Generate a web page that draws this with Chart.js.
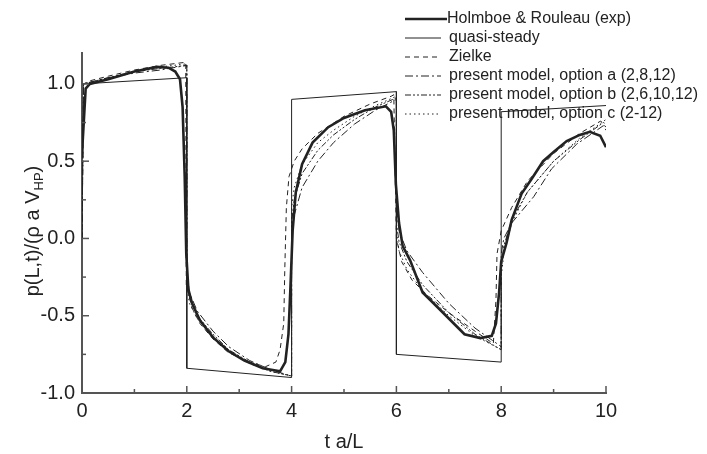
<!DOCTYPE html>
<html>
<head>
<meta charset="utf-8">
<script src="https://cdn.jsdelivr.net/npm/chart.js@4/dist/chart.umd.min.js"></script>
<style>
  html, body { margin: 0; padding: 0; background: #fff; }
  #wrap { width: 707px; height: 454px; }
</style>
</head>
<body>
<div id="wrap"><canvas id="pressureChart" width="707" height="454"></canvas></div>
<script>
// pressure at valve, p(L,t)/(rho a V_HP) against t a/L

const xTicks = [0, 2, 4, 6, 8, 10];
const xMinor = [1, 3, 5, 7, 9];
const yTicks = [-1.0, -0.5, 0.0, 0.5, 1.0];
const yMinor = [-0.75, -0.25, 0.25, 0.75];

const legendLabels = [
    'Holmboe & Rouleau (exp)',
    'quasi-steady',
    'Zielke',
    'present model, option a (2,8,12)',
    'present model, option b (2,6,10,12)',
    'present model, option c (2-12)'
];

const expT = [0, 0.07, 0.15, 0.5, 1.0, 1.43, 1.65, 1.78, 1.87, 1.92, 1.96, 1.99,
    2.03, 2.1, 2.25, 2.5, 2.8, 3.1, 3.45, 3.78, 3.88, 3.94, 3.98, 4.02,
    4.08, 4.2, 4.4, 4.7, 5.0, 5.4, 5.8, 5.9, 5.95, 5.99, 6.05,
    6.12, 6.26, 6.5, 6.8, 7.3, 7.6, 7.82, 7.9, 7.96, 8.0,
    8.1, 8.2, 8.39, 8.58, 8.8, 9.0, 9.25, 9.5, 9.69, 9.89, 10.0];
const expP = [0.55, 0.97, 1.0, 1.03, 1.08, 1.11, 1.105, 1.08, 1.03, 0.85, 0.4, -0.1,
    -0.33, -0.42, -0.53, -0.64, -0.73, -0.79, -0.84, -0.86, -0.8, -0.62, -0.3, 0.05,
    0.3, 0.48, 0.62, 0.72, 0.78, 0.83, 0.855, 0.82, 0.7, 0.35, 0.1,
    -0.05, -0.14, -0.35, -0.45, -0.62, -0.645, -0.63, -0.55, -0.35, -0.15,
    -0.03, 0.12, 0.29, 0.385, 0.5, 0.56, 0.63, 0.67, 0.69, 0.665, 0.59];

const quasiT = [0, 2, 2, 4, 4, 6, 6, 8, 8, 10];
const quasiP = [1.0, 1.04, -0.84, -0.9, 0.9, 0.95, -0.75, -0.8, 0.82, 0.86];

const zielkeT = [0, 0.03, 0.15, 0.5, 1.0, 1.5, 1.98, 1.99,
    2.1, 2.25, 2.5, 2.8, 3.2, 3.5, 3.7, 3.78, 3.85, 3.87,
    3.9, 3.95, 4.05, 4.2, 4.5, 5.0, 5.5, 5.9, 5.95,
    6.0, 6.1, 6.3, 6.6, 7.0, 7.5, 7.85, 7.9,
    7.92, 8.0, 8.2, 8.5, 9.0, 9.5, 9.9, 10.0];
const zielkeP = [0.0, 1.0, 1.02, 1.05, 1.09, 1.12, 1.14, -0.3,
    -0.45, -0.55, -0.65, -0.74, -0.8, -0.83, -0.8, -0.72, -0.55, -0.2,
    0.2, 0.4, 0.5, 0.58, 0.68, 0.79, 0.87, 0.92, 0.93,
    0.0, -0.15, -0.27, -0.37, -0.48, -0.6, -0.68, -0.4,
    -0.1, 0.05, 0.2, 0.37, 0.55, 0.68, 0.76, 0.72];

const optAT = [0, 0.03, 0.5, 1.0, 1.5, 2.0, 2.0, 2.05, 2.2, 2.5, 2.8, 3.2, 3.6, 4.0,
    4.0, 4.05, 4.2, 4.5, 4.8, 5.2, 5.6, 6.0, 6.0, 6.05, 6.2, 6.5, 7.0, 7.5, 8.0,
    8.0, 8.05, 8.2, 8.62, 8.96, 9.44, 9.95, 10.0];
const optAP = [0.0, 1.0, 1.04, 1.07, 1.09, 1.12, -0.2, -0.35, -0.47, -0.6, -0.7, -0.79, -0.85, -0.89,
    0.0, 0.15, 0.33, 0.5, 0.62, 0.74, 0.83, 0.9, 0.2, 0.05, -0.08, -0.22, -0.42, -0.58, -0.7,
    -0.1, 0.0, 0.1, 0.27, 0.45, 0.61, 0.73, 0.7];

const optBT = [0, 0.03, 0.5, 1.0, 1.5, 2.0, 2.0, 2.05, 2.2, 2.5, 2.8, 3.2, 3.6, 4.0,
    4.0, 4.05, 4.2, 4.5, 4.8, 5.2, 5.6, 6.0, 6.0, 6.05, 6.2, 6.5, 7.0, 7.5, 8.0,
    8.0, 8.05, 8.2, 8.5, 9.0, 9.5, 9.95, 10.0];
const optBP = [0.0, 1.0, 1.04, 1.08, 1.1, 1.12, -0.25, -0.38, -0.5, -0.62, -0.72, -0.8, -0.86, -0.89,
    0.1, 0.25, 0.42, 0.57, 0.67, 0.77, 0.85, 0.91, 0.1, -0.02, -0.15, -0.3, -0.48, -0.62, -0.72,
    -0.2, -0.05, 0.12, 0.3, 0.5, 0.64, 0.75, 0.74];

const optCT = [0, 0.03, 0.5, 1.0, 1.5, 2.0, 2.0, 2.05, 2.2, 2.5, 2.8, 3.2, 3.6, 4.0,
    4.0, 4.05, 4.2, 4.5, 4.8, 5.2, 5.6, 6.0, 6.0, 6.05, 6.2, 6.5, 7.0, 7.5, 8.0,
    8.0, 8.05, 8.2, 8.5, 9.0, 9.5, 10.0];
const optCP = [0.0, 1.0, 1.04, 1.08, 1.11, 1.13, -0.3, -0.42, -0.52, -0.63, -0.73, -0.81, -0.86, -0.89,
    0.2, 0.33, 0.48, 0.62, 0.7, 0.79, 0.86, 0.92, 0.05, -0.08, -0.2, -0.34, -0.5, -0.63, -0.72,
    -0.25, -0.1, 0.1, 0.3, 0.5, 0.65, 0.77];

const toPoints = (ts, ps) => ts.map((t, i) => ({ x: t, y: ps[i] }));

const ink = '#222';
const font = '"Liberation Sans", Arial, sans-serif';

function series(label, ts, ps, width, dash) {
    return {
        label: label,
        data: toPoints(ts, ps),
        borderColor: ink,
        borderWidth: width,
        borderDash: dash,
        pointRadius: 0,
        tension: 0,
        fill: false
    };
}

// inward ticks, axis titles and the line-sample legend
const decorPlugin = {
    id: 'decor',
    afterDraw(chart) {
        const ctx = chart.ctx;
        const xs = chart.scales.x;
        const ys = chart.scales.y;
        const area = chart.chartArea;
        ctx.save();
        ctx.strokeStyle = '#555';
        ctx.lineWidth = 1.5;
        const tick = (x1, y1, x2, y2) => {
            ctx.beginPath();
            ctx.moveTo(x1, y1);
            ctx.lineTo(x2, y2);
            ctx.stroke();
        };
        xTicks.forEach(v => { const px = xs.getPixelForValue(v); tick(px, area.bottom, px, area.bottom - 7); });
        xMinor.forEach(v => { const px = xs.getPixelForValue(v); tick(px, area.bottom, px, area.bottom - 4); });
        yTicks.forEach(v => { const py = ys.getPixelForValue(v); tick(area.left, py, area.left + 7, py); });
        yMinor.forEach(v => { const py = ys.getPixelForValue(v); tick(area.left, py, area.left + 4, py); });

        // x title
        ctx.fillStyle = ink;
        ctx.font = '20px ' + font;
        ctx.textAlign = 'center';
        ctx.textBaseline = 'middle';
        ctx.fillText('t a/L', (area.left + area.right) / 2, 442);

        // y title with subscript
        ctx.save();
        ctx.translate(33, (area.top + area.bottom) / 2 + 8);
        ctx.rotate(-Math.PI / 2);
        const main = 'p(L,t)/(\u03c1 a V';
        const sub = 'HP';
        const tail = ')';
        ctx.font = '20px ' + font;
        const w1 = ctx.measureText(main).width;
        const w3 = ctx.measureText(tail).width;
        ctx.font = '13px ' + font;
        const w2 = ctx.measureText(sub).width;
        let x0 = -(w1 + w2 + w3) / 2;
        ctx.textAlign = 'left';
        ctx.font = '20px ' + font;
        ctx.fillText(main, x0, 0);
        ctx.font = '13px ' + font;
        ctx.fillText(sub, x0 + w1, 6);
        ctx.font = '20px ' + font;
        ctx.fillText(tail, x0 + w1 + w2, 0);
        ctx.restore();

        // legend
        ctx.font = '16px ' + font;
        ctx.textAlign = 'left';
        ctx.textBaseline = 'middle';
        chart.data.datasets.forEach((ds, i) => {
            const y = 19 + i * 19;
            ctx.strokeStyle = ink;
            ctx.lineWidth = ds.borderWidth;
            ctx.setLineDash(ds.borderDash || []);
            ctx.beginPath();
            ctx.moveTo(405, y);
            ctx.lineTo(i === 0 ? 447 : 441, y);
            ctx.stroke();
            ctx.setLineDash([]);
            ctx.fillStyle = ink;
            ctx.fillText(ds.label, i === 0 ? 447 : 449, y);
        });
        ctx.restore();
    }
};

const chartCtx = document.getElementById('pressureChart').getContext('2d');

new Chart(chartCtx, {
    type: 'line',
    data: {
        datasets: [
            series(legendLabels[0], expT, expP, 2.6, []),
            series(legendLabels[1], quasiT, quasiP, 1, []),
            series(legendLabels[2], zielkeT, zielkeP, 1, [5, 4]),
            series(legendLabels[3], optAT, optAP, 1, [8, 3, 2, 3]),
            series(legendLabels[4], optBT, optBP, 1, [6, 2, 2, 2, 2, 2]),
            series(legendLabels[5], optCT, optCP, 1, [1.5, 3])
        ]
    },
    options: {
        responsive: false,
        animation: false,
        layout: { padding: { top: 53, right: 101, left: 0, bottom: 0 } },
        scales: {
            x: {
                type: 'linear',
                min: 0,
                max: 10,
                afterFit: s => { s.height = 61; },
                afterBuildTicks: s => { s.ticks = xTicks.map(v => ({ value: v })); },
                grid: { display: false, drawTicks: false },
                border: { display: true, color: '#555', width: 2 },
                ticks: { color: ink, font: { family: font, size: 20 }, padding: 6, maxRotation: 0 }
            },
            y: {
                type: 'linear',
                min: -1.0,
                max: 1.2,
                afterFit: s => { s.width = 82; },
                afterBuildTicks: s => { s.ticks = yTicks.map(v => ({ value: v })); },
                grid: { display: false, drawTicks: false },
                border: { display: true, color: '#555', width: 2 },
                ticks: {
                    color: ink,
                    font: { family: font, size: 20 },
                    padding: 7,
                    callback: v => v.toFixed(1)
                }
            }
        },
        plugins: {
            legend: { display: false },
            tooltip: { enabled: false }
        }
    },
    plugins: [decorPlugin]
});
</script>
</body>
</html>
